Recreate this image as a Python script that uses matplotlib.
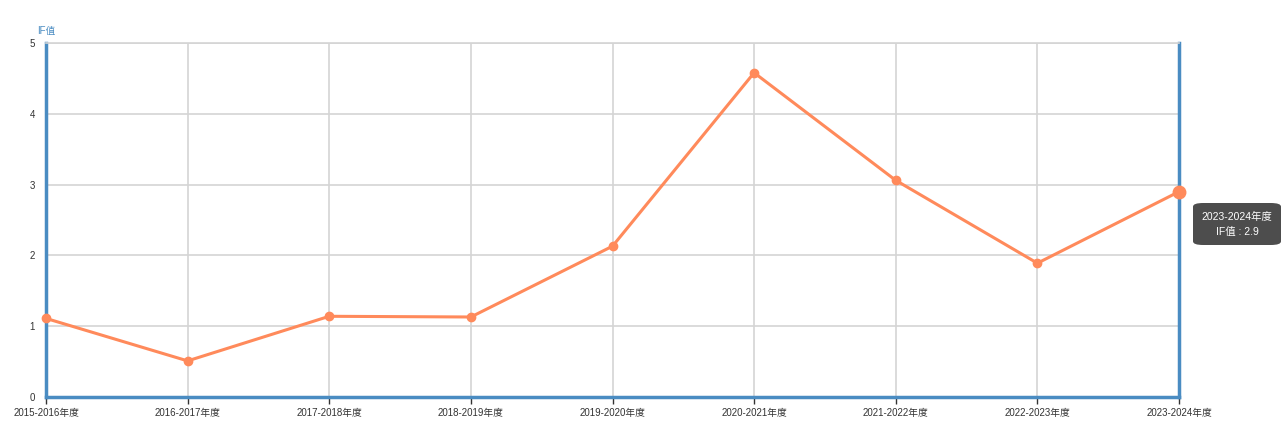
import matplotlib
matplotlib.use("Agg")
import matplotlib.pyplot as plt

plt.rcParams['font.family'] = ['Liberation Sans', 'Noto Sans CJK SC', 'DejaVu Sans']

categories = ["2015-2016年度", "2016-2017年度", "2017-2018年度", "2018-2019年度",
              "2019-2020年度", "2020-2021年度", "2021-2022年度", "2022-2023年度",
              "2023-2024年度"]
if_values = [1.11, 0.51, 1.14, 1.13, 2.13, 4.58, 3.06, 1.89, 2.9]
y_ticks = [0, 1, 2, 3, 4, 5]

W, H = 1288, 448
fig = plt.figure(figsize=(W / 100, H / 100), dpi=100)
left, right, top, bottom = 46, 1179, 43, 397
ax = fig.add_axes([left / W, 1 - bottom / H, (right - left) / W, (bottom - top) / H])

x = list(range(len(categories)))
line_color = "#ff8a5b"
blue = "#4a8cc2"

ax.set_xlim(0, len(categories) - 1)
ax.set_ylim(0, 5)
ax.set_yticks(y_ticks)
ax.set_xticks(x)
ax.set_xticklabels(categories, fontsize=7, color="#333333")
ax.set_yticklabels([str(t) for t in y_ticks], fontsize=7, color="#333333")

ax.grid(True, color="#d4d4d4", linewidth=1.2)
ax.set_axisbelow(True)

for s in ["left", "bottom", "right"]:
    ax.spines[s].set_color(blue)
    ax.spines[s].set_linewidth(2.5)
ax.spines["top"].set_color("#d4d4d4")
ax.spines["top"].set_linewidth(1.2)

ax.tick_params(axis="x", length=5, width=1, color="#333333", pad=3)
ax.tick_params(axis="y", length=0, pad=8)

ax.plot(x, if_values, color=line_color, linewidth=2.2, marker="o", markersize=6,
        clip_on=False, zorder=5)
ax.plot([x[-1]], [if_values[-1]], marker="o", markersize=9, color=line_color,
        clip_on=False, zorder=6)

fig.text(37 / W, 1 - 31 / H, "IF值", fontsize=7, color=blue, va="center", ha="left")

# tooltip
from matplotlib.patches import FancyBboxPatch
tx0, ty0, tw, th = 1193, 203, 88, 42
box = FancyBboxPatch((tx0 / W, 1 - (ty0 + th) / H), tw / W, th / H,
                     boxstyle="round,pad=0,rounding_size=0.008",
                     transform=fig.transFigure, facecolor="#4d4d4d",
                     edgecolor="none", zorder=10)
fig.patches.append(box)
fig.text((tx0 + tw / 2) / W, 1 - 217 / H, categories[-1], fontsize=7.5,
         color="white", ha="center", va="center", zorder=11)
fig.text((tx0 + tw / 2) / W, 1 - 232 / H, f"IF值 : {if_values[-1]}", fontsize=7.5,
         color="white", ha="center", va="center", zorder=11)

fig.savefig("out.png", dpi=100)
